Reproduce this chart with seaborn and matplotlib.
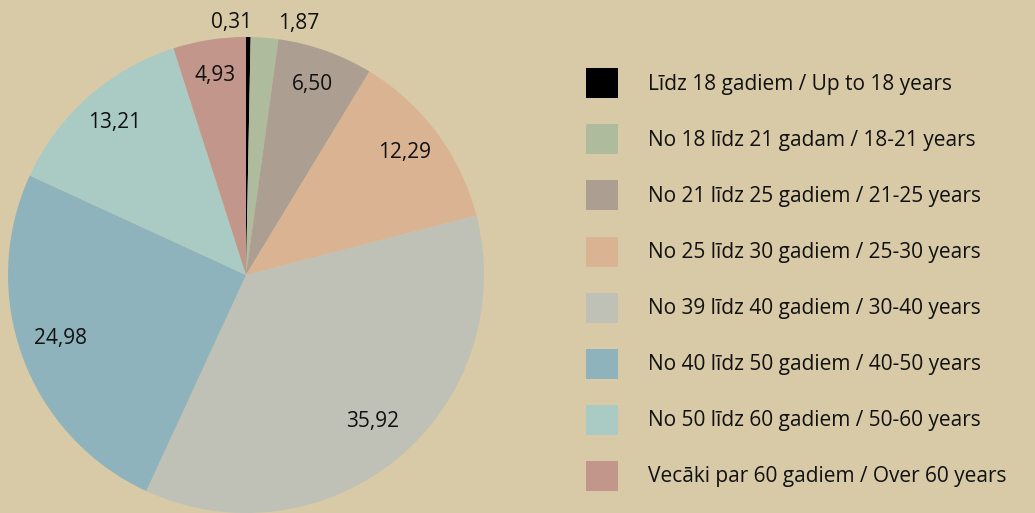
import matplotlib
matplotlib.use("Agg")
import matplotlib.pyplot as plt
import seaborn as sns
import numpy as np

# Age structure, share in percent
categories = [
    "Līdz 18 gadiem / Up to 18 years",
    "No 18 līdz 21 gadam / 18-21 years",
    "No 21 līdz 25 gadiem / 21-25 years",
    "No 25 līdz 30 gadiem / 25-30 years",
    "No 39 līdz 40 gadiem / 30-40 years",
    "No 40 līdz 50 gadiem / 40-50 years",
    "No 50 līdz 60 gadiem / 50-60 years",
    "Vecāki par 60 gadiem / Over 60 years",
]
shares = [0.31, 1.87, 6.50, 12.29, 35.92, 24.98, 13.21, 4.93]
share_labels = ["0,31", "1,87", "6,50", "12,29", "35,92", "24,98", "13,21", "4,93"]
colors = ["#000000", "#AEBB9C", "#AC9F92", "#DAB392",
          "#BFC1B6", "#8FB3BC", "#A9CBC4", "#C2968A"]

bg = "#D8CAA6"
sns.set_theme(style="white", rc={"figure.facecolor": bg, "axes.facecolor": bg,
                                 "savefig.facecolor": bg})
plt.rcParams["font.family"] = ["Open Sans", "DejaVu Sans"]

fig = plt.figure(figsize=(10.35, 5.13), dpi=100)
ax = fig.add_axes([8 / 1035, 0, 476 / 1035, 476 / 513])

wedges, _ = ax.pie(shares, colors=sns.color_palette(colors), startangle=90,
                   counterclock=False, radius=1,
                   wedgeprops={"linewidth": 0})
ax.set_xlim(-1, 1)
ax.set_ylim(-1, 1)
ax.set_aspect("equal")

for i, (w, lab) in enumerate(zip(wedges, share_labels)):
    ang = np.deg2rad((w.theta1 + w.theta2) / 2)
    if i < 2:
        d = 1.06
        ha = "right" if i == 0 else "left"
        x = d * np.cos(ang) + (0.015 if i == 0 else 0.05)
        y = d * np.sin(ang)
    else:
        d = 0.83
        ha = "center"
        x = d * np.cos(ang)
        y = d * np.sin(ang) + 0.02
    ax.text(x, y, lab, ha=ha, va="center", fontsize=15, color="#111111",
            fontweight="medium")

leg = fig.legend(wedges, categories, loc="upper left",
                 bbox_to_anchor=(578 / 1035, 1 - 60 / 513),
                 frameon=False, handlelength=1.5, handleheight=1.84,
                 handletextpad=1.45, labelspacing=1.25, borderaxespad=0,
                 prop={"size": 15, "weight": "medium"})
for t in leg.get_texts():
    t.set_color("#111111")

fig.savefig("out.png", dpi=100)
